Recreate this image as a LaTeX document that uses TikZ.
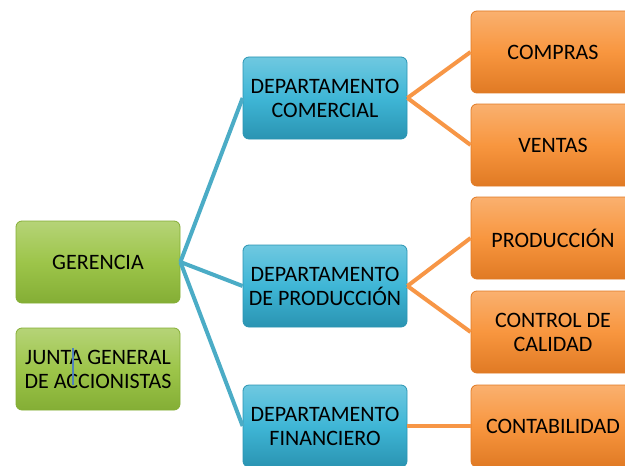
\documentclass[tikz,border=0pt]{standalone}
\usepackage{fontspec}
\setmainfont{Carlito}
\definecolor{verde}{HTML}{9DC54A}
\definecolor{verdeOsc}{HTML}{84AE35}
\definecolor{azul}{HTML}{3FB6D6}
\definecolor{azulOsc}{HTML}{2A94B2}
\definecolor{naranja}{HTML}{F8963F}
\definecolor{naranjaOsc}{HTML}{E07A24}
\definecolor{lineaAzul}{HTML}{4BACC6}
\definecolor{lineaNar}{HTML}{F79646}
\definecolor{cursor}{HTML}{4F81BD}
\begin{document}
\begin{tikzpicture}[x=0.5pt,y=-0.5pt,
	caja/.style={rounded corners=3pt,minimum width=82pt,minimum height=41pt,align=center,
		font=\fontsize{11}{12}\selectfont,inner sep=1pt,
		draw=#1Osc,line width=0.4pt,top color=#1!75!white,bottom color=#1Osc,middle color=#1},
	ramaAzul/.style={draw=lineaAzul,line width=2pt},
	ramaNar/.style={draw=lineaNar,line width=2pt}]
	\useasboundingbox (0,0) rectangle (625,465);
	% nivel 1
	\node[caja=verde] (gerencia) at (98,262) {GERENCIA};
	\node[caja=verde] (junta) at (98,369) {JUNTA GENERAL\\DE ACCIONISTAS};
	\draw[cursor,line width=0.6pt] (73,348) -- (73,385);
	% departamentos
	\node[caja=azul] (comercial) at (325,98) {DEPARTAMENTO\\COMERCIAL};
	\node[caja=azul] (produccion) at (325,286) {DEPARTAMENTO\\DE PRODUCCIÓN};
	\node[caja=azul] (financiero) at (325,426) {DEPARTAMENTO\\FINANCIERO};
	% secciones
	\node[caja=naranja] (compras) at (553,52) {COMPRAS};
	\node[caja=naranja] (ventas) at (553,145) {VENTAS};
	\node[caja=naranja] (prod) at (553,238) {PRODUCCIÓN};
	\node[caja=naranja] (calidad) at (553,332) {CONTROL DE\\CALIDAD};
	\node[caja=naranja] (contab) at (553,426) {CONTABILIDAD};
	% lineas
	\foreach \d in {comercial,produccion,financiero}
		\draw[ramaAzul] (gerencia.east) -- (\d.west);
	\draw[ramaNar] (comercial.east) -- (compras.west);
	\draw[ramaNar] (comercial.east) -- (ventas.west);
	\draw[ramaNar] (produccion.east) -- (prod.west);
	\draw[ramaNar] (produccion.east) -- (calidad.west);
	\draw[ramaNar] (financiero.east) -- (contab.west);
\end{tikzpicture}
\end{document}
